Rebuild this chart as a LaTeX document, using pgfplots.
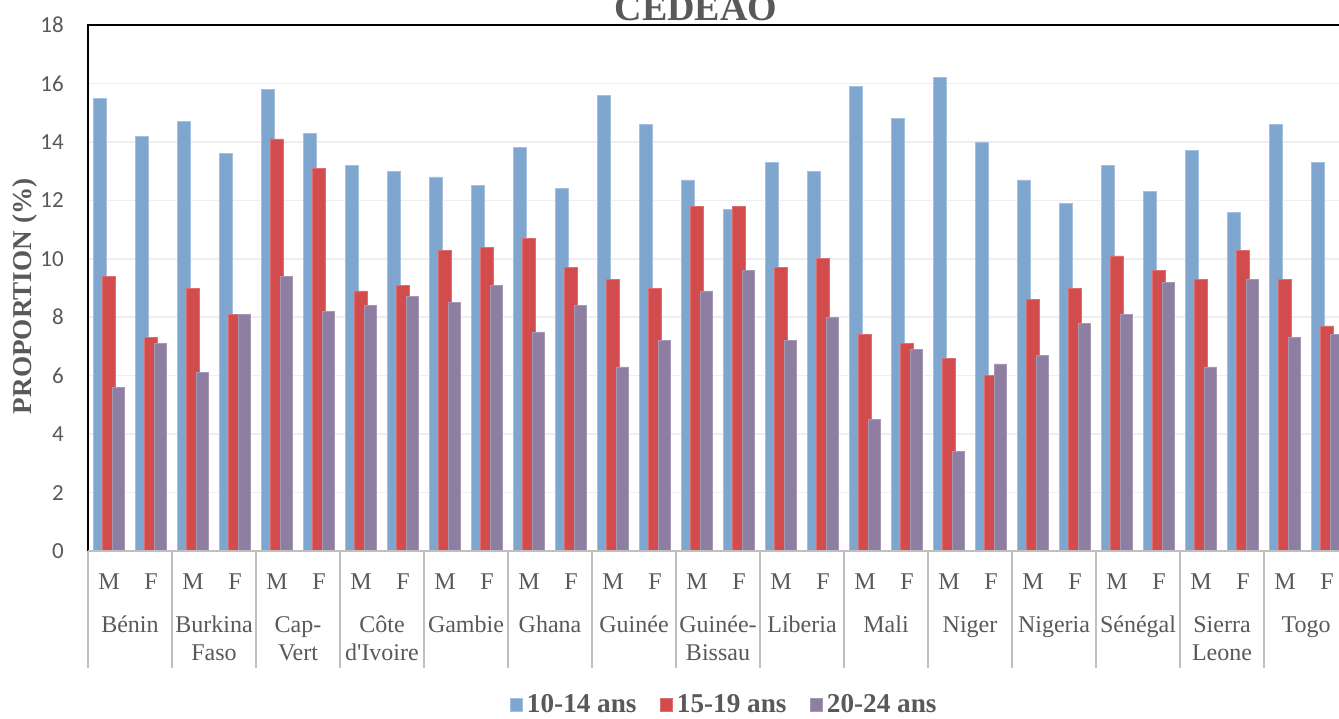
\documentclass[border=0pt]{standalone}
\usepackage{pgfplots}
\usepackage{pgfplotstable}
\pgfplotsset{compat=1.18}
\usepackage{fontspec}
\setmainfont{Liberation Serif}
\newfontfamily\carlito{Carlito}

\definecolor{cblue}{RGB}{127,166,207}
\definecolor{cred}{RGB}{210,75,77}
\definecolor{cpurp}{RGB}{142,126,162}
\definecolor{txtgray}{RGB}{89,89,89}
\definecolor{sepgray}{RGB}{191,191,191}
\definecolor{gridgray}{RGB}{238,238,238}

% x: 0..29 = (country, M/F); a = 10-14 ans, b = 15-19 ans, c = 20-24 ans
\pgfplotstableread{
x  a     b     c
0  15.5  9.4   5.6
1  14.2  7.3   7.1
2  14.7  9.0   6.1
3  13.6  8.1   8.1
4  15.8  14.1  9.4
5  14.3  13.1  8.2
6  13.2  8.9   8.4
7  13.0  9.1   8.7
8  12.8  10.3  8.5
9  12.5  10.4  9.1
10 13.8  10.7  7.5
11 12.4  9.7   8.4
12 15.6  9.3   6.3
13 14.6  9.0   7.2
14 12.7  11.8  8.9
15 11.7  11.8  9.6
16 13.3  9.7   7.2
17 13.0  10.0  8.0
18 15.9  7.4   4.5
19 14.8  7.1   6.9
20 16.2  6.6   3.4
21 14.0  6.0   6.4
22 12.7  8.6   6.7
23 11.9  9.0   7.8
24 13.2  10.1  8.1
25 12.3  9.6   9.2
26 13.7  9.3   6.3
27 11.6  10.3  9.3
28 14.6  9.3   7.3
29 13.3  7.7   7.4
}\data

\newcommand{\clab}[3]{%
  \node[anchor=base, text=txtgray, font=\fontsize{12}{14}\selectfont] at ([yshift=-40.8pt]axis cs:#1,0) {#2};
  \node[anchor=base, text=txtgray, font=\fontsize{12}{14}\selectfont] at ([yshift=-54.5pt]axis cs:#1,0) {#3};
}

\begin{document}
\begin{tikzpicture}
\begin{axis}[
    at={(0,0)}, anchor=south west,
    scale only axis, width=630pt, height=263pt,
    xmin=-0.5, xmax=29.5, ymin=0, ymax=18,
    clip=false,
    ytick={0,2,...,18},
    xtick={0,...,29},
    xticklabels={M,F,M,F,M,F,M,F,M,F,M,F,M,F,M,F,M,F,M,F,M,F,M,F,M,F,M,F,M,F},
    major tick length=0pt,
    tick style={draw=none},
    ymajorgrids,
    grid style={gridgray, line width=0.75pt},
    axis line style={black, line width=1pt},
    /pgf/number format/assume math mode=true,
    yticklabel style={font=\carlito\fontsize{11.5}{13}\selectfont, text=txtgray, xshift=-8.6pt},
    xticklabel style={font=\fontsize{12}{14}\selectfont, text=txtgray, anchor=base, yshift=-19.2pt},
    ylabel={PROPORTION (\%)},
    ylabel style={at={(axis description cs:-0.05,0.484)}, anchor=center,
        font=\bfseries\fontsize{13.6}{15}\selectfont, text=txtgray},
    legend image code/.code={\fill[#1] (0pt,-3.2pt) rectangle (6.4pt,3.2pt);},
    legend style={at={(0.5056,-0.293)}, anchor=center, draw=none, fill=none,
        legend columns=-1, inner sep=0pt,
        font=\bfseries\fontsize{13.6}{15}\selectfont, text=txtgray,
        /tikz/every even column/.append style={column sep=9.5pt}},
]
\addplot[ybar, bar width=6.25pt, bar shift=-4.7pt, fill=cblue, draw=cblue!70!white, line width=0.3pt]
    table[x=x, y=a] {\data};
\addlegendentry{10-14 ans}
\addplot[ybar, bar width=6.25pt, bar shift=0pt, fill=cred, draw=cred!80!white, line width=0.3pt]
    table[x=x, y=b] {\data};
\addlegendentry{15-19 ans}
\addplot[ybar, bar width=6.25pt, bar shift=4.7pt, fill=cpurp, draw=cpurp!80!white, line width=0.3pt]
    table[x=x, y=c] {\data};
\addlegendentry{20-24 ans}

% group separators under the axis
\pgfplotsinvokeforeach{-0.5,1.5,...,29.5}{
    \draw[sepgray, line width=1pt] (axis cs:#1,0) -- ([yshift=-58.5pt]axis cs:#1,0);
}

\clab{0.5}{Bénin}{}
\clab{2.5}{Burkina}{Faso}
\clab{4.5}{Cap-}{Vert}
\clab{6.5}{Côte}{d\textquotesingle Ivoire}
\clab{8.5}{Gambie}{}
\clab{10.5}{Ghana}{}
\clab{12.5}{Guinée}{}
\clab{14.5}{Guinée-}{Bissau}
\clab{16.5}{Liberia}{}
\clab{18.5}{Mali}{}
\clab{20.5}{Niger}{}
\clab{22.5}{Nigeria}{}
\clab{24.5}{Sénégal}{}
\clab{26.5}{Sierra}{Leone}
\clab{28.5}{Togo}{}
\end{axis}

\draw[sepgray, line width=1pt] (0,0) -- (630pt,0);
\node[anchor=base, text=txtgray, font=\bfseries\fontsize{19}{22}\selectfont] at (304pt,265.2pt) {CEDEAO};

\pgfresetboundingbox
\path[use as bounding box] (-44pt,-83.5pt) rectangle (625.5pt,275.5pt);
\end{tikzpicture}
\end{document}
